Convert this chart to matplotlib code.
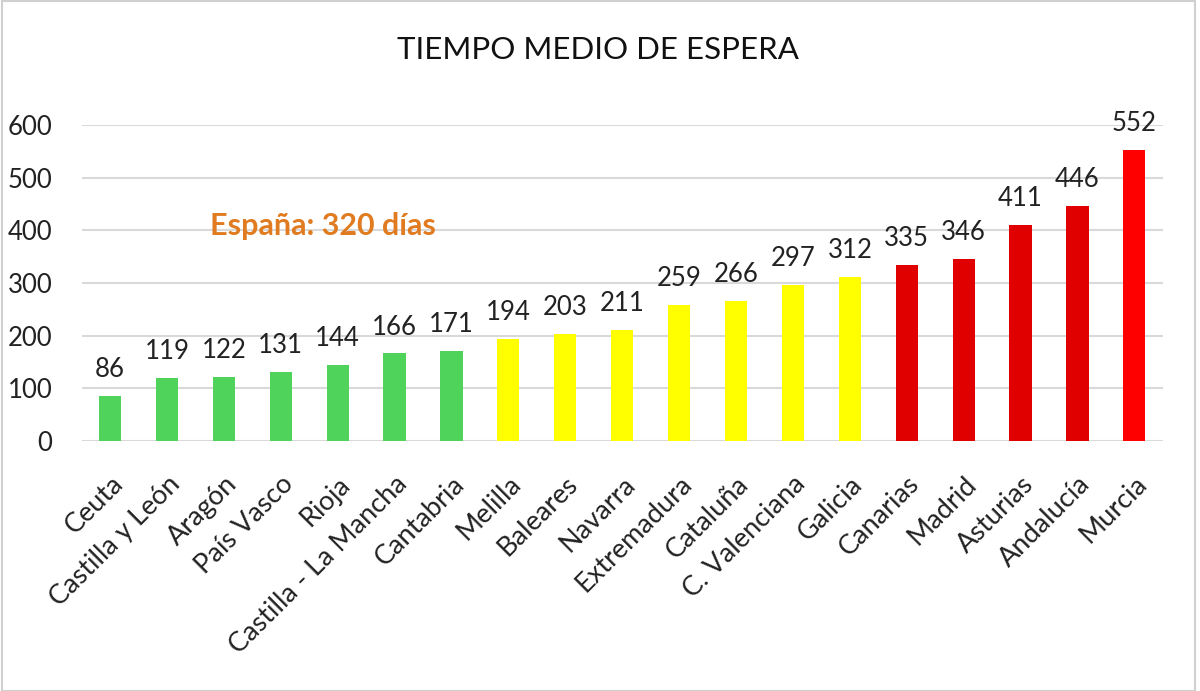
import matplotlib
matplotlib.use("Agg")
import matplotlib.pyplot as plt
from matplotlib.patches import Rectangle

plt.rcParams['font.family'] = ['Lato', 'DejaVu Sans']

regions = ["Ceuta", "Castilla y León", "Aragón", "País Vasco", "Rioja",
           "Castilla - La Mancha", "Cantabria", "Melilla", "Baleares", "Navarra",
           "Extremadura", "Cataluña", "C. Valenciana", "Galicia", "Canarias",
           "Madrid", "Asturias", "Andalucía", "Murcia"]
days = [86, 119, 122, 131, 144, 166, 171, 194, 203, 211,
        259, 266, 297, 312, 335, 346, 411, 446, 552]
bar_colors = ["#4fd35a"] * 7 + ["#ffff00"] * 7 + ["#e00000"] * 4 + ["#ff0000"]
yticks = [0, 100, 200, 300, 400, 500, 600]

fig = plt.figure(figsize=(12, 6.91), dpi=100)
ax = fig.add_axes([0.068, 0.362, 0.901, 0.457])

x = range(len(regions))
ax.bar(x, days, width=0.39, color=bar_colors, zorder=3)

for xi, v in zip(x, days):
    ax.annotate(str(v), (xi, v), xytext=(0, 10), textcoords="offset points",
                ha="center", va="bottom", fontsize=18.5, color="#222222",
                annotation_clip=False)

ax.set_xlim(-0.5, len(regions) - 0.5)
ax.set_ylim(0, 600)
ax.set_yticks(yticks)
ax.set_yticklabels([str(t) for t in yticks], fontsize=18.5, color="#222222")
ax.grid(axis="y", color="#d9d9d9", linewidth=1.5, zorder=0)
ax.tick_params(axis="y", length=0, pad=21)
ax.tick_params(axis="x", length=0, pad=22)
ax.set_xticks(list(x))
ax.set_xticklabels(regions, rotation=45, ha="right", rotation_mode="anchor",
                   fontsize=19.5, color="#222222")
for s in ax.spines.values():
    s.set_visible(False)

ax.text(1.76, 408, "España: 320 días", color="#e07b20", fontsize=22,
        fontweight="bold", ha="left", va="center")

fig.text(0.498, 0.928, "TIEMPO MEDIO DE ESPERA", ha="center", va="center",
         fontsize=22.5, color="#111111")

fig.patches.append(Rectangle((0.002, 0.0), 0.994, 0.998, transform=fig.transFigure,
                             fill=False, edgecolor="#d0d0d0", linewidth=1.5))

fig.savefig("out.png", dpi=100)
